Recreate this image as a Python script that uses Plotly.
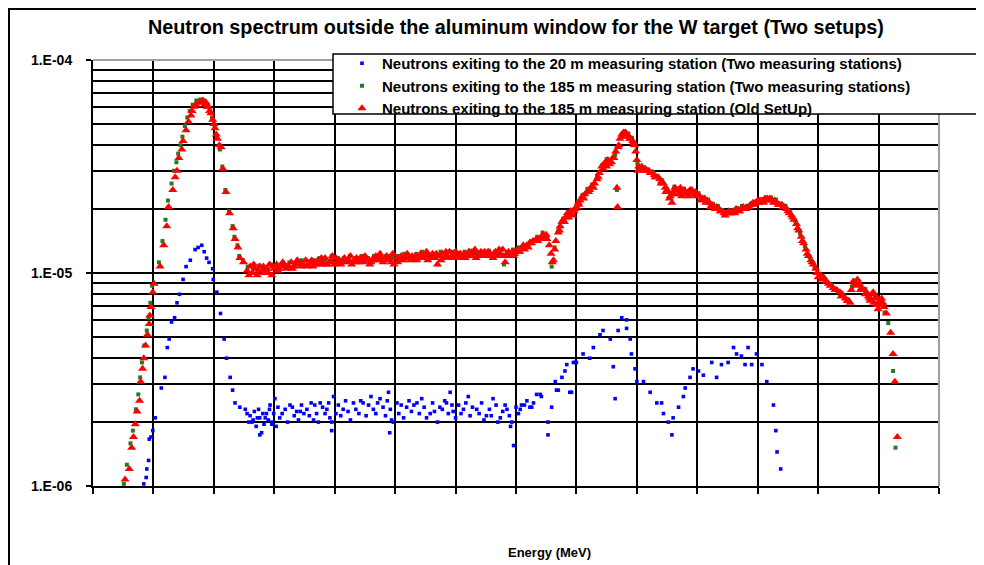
import plotly.graph_objects as go

# ---------------- data (log10 of energy in MeV, log10 of flux) ----------------
red_log_e = [
    -8.47, -8.40, -8.36, -8.33, -8.30, -8.27, -8.23, -8.21, -8.18, -8.16, -8.13, -8.10, -8.07, -8.06,
    -8.04, -8.01, -7.99, -7.89, -7.83, -7.78, -7.75, -7.68, -7.64, -7.61, -7.58, -7.53, -7.51, -7.46,
    -7.42, -7.38, -7.33, -7.26, -7.18, -7.13, -7.09, -7.05, -7.02, -6.98, -6.94, -6.88, -6.85, -6.80,
    -6.74, -6.68, -6.65, -6.60, -6.57, -6.51,
    -6.45, -6.40, -6.36, -6.32, -6.28, -6.24, -6.20, -6.16, -6.12, -6.08, -6.04, -6.00, -5.96, -5.92,
    -5.88, -5.84, -5.80, -5.76, -5.72, -5.68, -5.64, -5.60, -5.56, -5.52, -5.48, -5.44, -5.40, -5.36,
    -5.32, -5.28, -5.24, -5.20, -5.16, -5.12, -5.08, -5.04, -5.00, -4.96, -4.92, -4.88, -4.84, -4.80,
    -4.76, -4.72, -4.68, -4.64, -4.60, -4.56, -4.52, -4.48, -4.44, -4.40, -4.36, -4.32, -4.28, -4.25,
    -4.22, -4.18, -4.14, -4.10, -4.06, -4.02, -3.98, -3.94, -3.90, -3.86, -3.82, -3.78, -3.74, -3.70,
    -3.66, -3.62, -3.58, -3.54, -3.50, -3.46, -3.42, -3.38, -3.34, -3.30, -3.26, -3.22, -3.18, -3.14,
    -3.10, -3.06, -3.02, -2.98, -2.94, -2.90, -2.86, -2.82, -2.78, -2.74, -2.70, -2.66, -2.62, -2.58,
    -2.54, -2.50, -2.46, -2.42, -2.38, -2.34, -2.30, -2.26, -2.22, -2.18, -2.14, -2.10, -2.06, -2.02,
    -1.98, -1.94, -1.90, -1.86, -1.82, -1.78, -1.74, -1.70, -1.66, -1.62, -1.58, -1.55, -1.52, -1.49,
    -1.45, -1.42, -1.40, -1.38, -1.36, -1.34, -1.30, -1.27, -1.24, -1.22, -1.18, -1.15, -1.13, -1.10,
    -1.06, -1.03, -1.00, -0.97, -0.94, -0.90, -0.86, -0.82, -0.78, -0.74, -0.70, -0.66, -0.62, -0.58,
    -0.55, -0.52, -0.48, -0.45, -0.42, -0.38, -0.35, -0.33, -0.32, -0.31, -0.28, -0.25, -0.22, -0.19,
    -0.16, -0.13, -0.10, -0.07, -0.04, -0.02, 0.00, 0.02, 0.05, 0.08, 0.11, 0.14, 0.17, 0.20,
    0.23, 0.26, 0.29, 0.32, 0.35, 0.38, 0.41, 0.44, 0.47, 0.50, 0.52, 0.55, 0.58, 0.60,
    0.63, 0.66, 0.69, 0.72, 0.75, 0.78, 0.82, 0.85, 0.88, 0.91, 0.94, 0.97, 1.00, 1.04,
    1.08, 1.12, 1.16, 1.20, 1.24, 1.28, 1.32, 1.36, 1.40, 1.44, 1.48, 1.52, 1.56, 1.60,
    1.64, 1.68, 1.72, 1.76, 1.80, 1.84, 1.88, 1.92, 1.96, 2.00, 2.04, 2.08, 2.12, 2.16,
    2.20, 2.24, 2.28, 2.32, 2.36, 2.40, 2.44, 2.48, 2.52, 2.56, 2.60, 2.64, 2.68, 2.72,
    2.76, 2.80, 2.84, 2.88, 2.92, 2.96, 3.00, 3.04, 3.09, 3.14, 3.20, 3.25, 3.31, 3.36,
    3.40, 3.45, 3.50, 3.53, 3.55, 3.60, 3.65, 3.68, 3.72, 3.76, 3.80, 3.83, 3.86, 3.89,
    3.91, 3.94, 3.97, 3.99, 4.02, 4.05, 4.09, 4.13, 4.20, 4.24, 4.27, 4.31,
    # denser scatter in the band
    -7.36, -7.30, -7.22, -7.15, -7.11, -7.07, -7.00, -6.96, -6.91,
    -6.42, -6.34, -6.26, -6.18, -6.10, -6.02, -5.94, -5.86, -5.78, -5.70, -5.62, -5.54, -5.46, -5.38,
    -5.30, -5.22, -5.14, -5.06, -4.98, -4.90, -4.82, -4.74, -4.66, -4.58, -4.50, -4.42, -4.34, -4.26,
    -4.20, -4.12, -4.04, -3.96, -3.88, -3.80, -3.72, -3.64, -3.56, -3.48, -3.40, -3.32, -3.24, -3.16,
    -3.08, -3.00, -2.92, -2.84, -2.76, -2.68, -2.60, -2.52, -2.44, -2.36, -2.28, -2.20, -2.12, -2.04,
    -1.96, -1.88, -1.80, -1.72, -1.64, -1.56, -1.50,
    -1.28, -1.20, -1.12, -1.04, -0.96, -0.88, -0.80, -0.72, -0.64, -0.56, -0.50, -0.40, -0.30, -0.24,
    -0.18, -0.12, -0.06, 0.03, 0.12, 0.22, 0.30, 0.40, 0.48, 0.54, 0.62, 0.68, 0.74, 0.80,
    0.86, 0.92, 0.98, 1.06, 1.14, 1.22, 1.30, 1.38, 1.46, 1.54, 1.62, 1.70, 1.78, 1.86,
    1.94, 2.02, 2.10, 2.18, 2.26, 2.34, 2.42, 2.50, 2.58, 2.66, 2.74, 2.82, 2.90, 2.98,
    3.06, 3.17, 3.28, 3.38, 3.48, 3.58, 3.63, 3.70, 3.78, 3.85, 3.92, 3.96, 4.00, 4.07,
]
red_log_flux = [
    -5.97, -5.92, -5.82, -5.77, -5.71, -5.65, -5.60, -5.51, -5.45, -5.40, -5.34, -5.29, -5.24, -5.20,
    -5.16, -5.09, -5.05, -4.97, -4.87, -4.78, -4.69, -4.61, -4.55, -4.52, -4.46, -4.42, -4.38, -4.33,
    -4.29, -4.26, -4.22, -4.20, -4.19, -4.20, -4.22, -4.25, -4.28, -4.32, -4.37, -4.41, -4.51, -4.62,
    -4.72, -4.79, -4.84, -4.88, -4.93, -4.95,
    -4.99, -4.97, -5.00, -4.98, -5.01, -4.97, -4.99, -5.00, -4.98, -4.96, -5.01, -4.98, -4.96, -4.98,
    -4.97, -4.96, -4.98, -4.97, -4.95, -4.97, -4.96, -4.95, -4.97, -4.96, -4.94, -4.96, -4.95, -4.97,
    -4.95, -4.94, -4.96, -4.95, -4.93, -4.96, -4.95, -4.92, -4.96, -4.95, -4.94, -4.95, -4.93, -4.95,
    -4.94, -4.96, -4.94, -4.93, -4.95, -4.94, -4.95, -4.93, -4.94, -4.95, -4.93, -4.92, -4.94, -4.91,
    -4.93, -4.94, -4.92, -4.93, -4.95, -4.96, -4.93, -4.94, -4.92, -4.94, -4.93, -4.92, -4.94, -4.93,
    -4.92, -4.93, -4.91, -4.93, -4.92, -4.94, -4.92, -4.91, -4.93, -4.96, -4.92, -4.91, -4.93, -4.92,
    -4.90, -4.92, -4.93, -4.91, -4.92, -4.93, -4.91, -4.92, -4.90, -4.92, -4.91, -4.93, -4.92, -4.90,
    -4.91, -4.92, -4.90, -4.91, -4.93, -4.90, -4.92, -4.91, -4.89, -4.95, -4.91, -4.92, -4.90, -4.91,
    -4.89, -4.90, -4.88, -4.89, -4.87, -4.86, -4.86, -4.85, -4.84, -4.84, -4.83, -4.82, -4.83, -4.84,
    -4.87, -4.91, -4.95, -4.94, -4.89, -4.85, -4.81, -4.78, -4.76, -4.75, -4.74, -4.72, -4.74, -4.71,
    -4.73, -4.70, -4.69, -4.67, -4.66, -4.64, -4.63, -4.62, -4.61, -4.59, -4.58, -4.56, -4.53, -4.50,
    -4.49, -4.48, -4.47, -4.49, -4.48, -4.46, -4.43, -4.60, -4.69, -4.41, -4.37, -4.35, -4.34, -4.34,
    -4.35, -4.36, -4.37, -4.38, -4.40, -4.43, -4.47, -4.52, -4.51, -4.50, -4.51, -4.51, -4.52, -4.52,
    -4.53, -4.53, -4.54, -4.55, -4.55, -4.56, -4.57, -4.58, -4.60, -4.61, -4.62, -4.64, -4.67, -4.62,
    -4.60, -4.61, -4.63, -4.60, -4.62, -4.61, -4.63, -4.62, -4.61, -4.61, -4.63, -4.62, -4.63, -4.64,
    -4.65, -4.65, -4.66, -4.67, -4.68, -4.69, -4.69, -4.70, -4.71, -4.72, -4.72, -4.71, -4.72, -4.71,
    -4.70, -4.71, -4.70, -4.69, -4.70, -4.69, -4.68, -4.67, -4.67, -4.66, -4.66, -4.66, -4.65, -4.65,
    -4.65, -4.66, -4.66, -4.67, -4.68, -4.68, -4.69, -4.70, -4.72, -4.73, -4.75, -4.77, -4.80, -4.83,
    -4.86, -4.89, -4.92, -4.94, -4.96, -4.98, -5.02, -5.01, -5.02, -5.04, -5.06, -5.07, -5.08, -5.09,
    -5.10, -5.12, -5.13, -5.14, -5.08, -5.05, -5.03, -5.05, -5.07, -5.08, -5.09, -5.11, -5.13, -5.10,
    -5.09, -5.12, -5.15, -5.17, -5.13, -5.12, -5.16, -5.19, -5.28, -5.38, -5.51, -5.77,
    # denser scatter in the band
    -4.24, -4.21, -4.20, -4.21, -4.22, -4.24, -4.30, -4.35, -4.40,
    -5.01, -4.96, -4.99, -4.97, -5.00, -4.97, -4.99, -4.95, -4.97, -4.98, -4.94, -4.96, -4.97, -4.94,
    -4.96, -4.93, -4.96, -4.94, -4.93, -4.96, -4.94, -4.92, -4.95, -4.93, -4.92, -4.96, -4.94, -4.93,
    -4.95, -4.94, -4.91, -4.95, -4.93, -4.91, -4.92, -4.94, -4.92, -4.90, -4.93, -4.91, -4.94, -4.90,
    -4.93, -4.90, -4.91, -4.93, -4.91, -4.89, -4.92, -4.90, -4.92, -4.91, -4.89, -4.92, -4.90, -4.92,
    -4.90, -4.87, -4.88, -4.85, -4.85, -4.84, -4.82,
    -4.80, -4.76, -4.72, -4.71, -4.68, -4.65, -4.62, -4.60, -4.55, -4.51, -4.50, -4.46, -4.40, -4.36,
    -4.35, -4.37, -4.39, -4.50, -4.52, -4.53, -4.55, -4.58, -4.62, -4.65, -4.63, -4.61, -4.64, -4.62,
    -4.64, -4.62, -4.64, -4.66, -4.67, -4.69, -4.70, -4.71, -4.73, -4.72, -4.72, -4.71, -4.70, -4.69,
    -4.68, -4.67, -4.67, -4.66, -4.67, -4.68, -4.69, -4.71, -4.74, -4.79, -4.85, -4.91, -4.95, -5.00,
    -5.03, -5.05, -5.08, -5.11, -5.13, -5.04, -5.06, -5.08, -5.10, -5.12, -5.14, -5.11, -5.15, -5.14,
]

green_log_e = [
    -8.49, -8.44, -8.38, -8.34, -8.29, -8.25, -8.22, -8.19, -8.15, -8.11, -8.08, -8.05, -8.02, -7.91,
    -7.85, -7.80, -7.76, -7.70, -7.66, -7.62, -7.59, -7.55, -7.52, -7.48, -7.44, -7.40, -7.35, -7.29,
    -7.22, -7.16, -7.11, -7.07, -7.03, -6.99, -6.95, -6.90, -6.86, -6.81, -6.75, -6.69, -6.66, -6.61,
    -6.58, -6.52, -6.44,
    -6.35, -6.25, -6.15, -6.05, -5.95, -5.85, -5.75, -5.65, -5.55, -5.45, -5.35, -5.25, -5.15, -5.05,
    -4.95, -4.85, -4.75, -4.65, -4.55, -4.45, -4.35, -4.25, -4.15, -4.05, -3.95, -3.85, -3.75, -3.65,
    -3.55, -3.45, -3.35, -3.25, -3.15, -3.05, -2.95, -2.85, -2.75, -2.65, -2.55, -2.45, -2.35, -2.25,
    -2.20, -2.15, -2.05, -1.95, -1.85, -1.75, -1.65, -1.56, -1.48, -1.41,
    -1.36, -1.30, -1.22, -1.14, -1.06, -0.98, -0.90, -0.82, -0.74, -0.66, -0.58, -0.50, -0.44, -0.36,
    -0.33, -0.31, -0.26, -0.20, -0.14, -0.08, -0.03, 0.01, 0.04, 0.10, 0.18, 0.26, 0.34, 0.42,
    0.50, 0.56, 0.62, 0.70, 0.78, 0.86, 0.94, 1.02, 1.10, 1.18, 1.26, 1.34, 1.42, 1.50,
    1.58, 1.66, 1.74, 1.82, 1.90, 1.98, 2.06, 2.14, 2.22, 2.30, 2.38, 2.46, 2.54, 2.62,
    2.70, 2.78, 2.86, 2.94, 3.02, 3.12, 3.22, 3.32, 3.42, 3.50, 3.56, 3.62, 3.70, 3.78,
    3.86, 3.94, 4.02, 4.10, 4.16, 4.24, 4.28,
]
green_log_flux = [
    -5.99, -5.90, -5.80, -5.74, -5.64, -5.57, -5.49, -5.42, -5.34, -5.27, -5.21, -5.14, -5.06, -4.95,
    -4.85, -4.75, -4.66, -4.58, -4.52, -4.48, -4.44, -4.40, -4.36, -4.31, -4.27, -4.24, -4.21, -4.19,
    -4.185, -4.19, -4.21, -4.24, -4.27, -4.31, -4.36, -4.42, -4.50, -4.61, -4.71, -4.78, -4.83, -4.87,
    -4.92, -4.94, -4.97,
    -4.975, -4.965, -4.985, -4.96, -4.965, -4.96, -4.95, -4.955, -4.94, -4.945, -4.94, -4.93, -4.935, -4.92,
    -4.93, -4.93, -4.92, -4.93, -4.92, -4.93, -4.92, -4.91, -4.92, -4.925, -4.92, -4.91, -4.92, -4.91,
    -4.90, -4.915, -4.91, -4.90, -4.91, -4.90, -4.905, -4.90, -4.895, -4.905, -4.90, -4.895, -4.90, -4.89,
    -4.96, -4.90, -4.89, -4.88, -4.87, -4.85, -4.83, -4.81, -4.835, -4.97,
    -4.88, -4.80, -4.745, -4.715, -4.705, -4.665, -4.635, -4.605, -4.585, -4.545, -4.495, -4.465, -4.475, -4.445,
    -4.61, -4.405, -4.355, -4.335, -4.345, -4.365, -4.395, -4.485, -4.515, -4.505, -4.515, -4.525, -4.545, -4.565,
    -4.605, -4.635, -4.595, -4.605, -4.605, -4.615, -4.615, -4.625, -4.645, -4.655, -4.675, -4.685, -4.705, -4.715,
    -4.705, -4.695, -4.685, -4.685, -4.675, -4.665, -4.655, -4.645, -4.645, -4.655, -4.675, -4.685, -4.715, -4.755,
    -4.815, -4.875, -4.925, -4.975, -5.005, -5.035, -5.055, -5.085, -5.105, -5.125, -5.065, -5.035, -5.055, -5.075,
    -5.105, -5.115, -5.145, -5.185, -5.235, -5.46, -5.82,
]

blue_log_e = [
    -8.16, -8.12, -8.11, -8.08, -8.07, -8.04, -8.01, -7.97, -7.87, -7.81, -7.77, -7.74, -7.70, -7.65,
    -7.61, -7.57, -7.51, -7.46, -7.39, -7.31, -7.26, -7.20, -7.16, -7.12, -7.08, -7.02, -7.01, -6.95,
    -6.89, -6.83, -6.79, -6.73, -6.69, -6.65, -6.57, -6.48, -6.45, -6.42, -6.40, -6.37, -6.35, -6.33,
    -6.30, -6.28, -6.26, -6.24, -6.24, -6.21, -6.19, -6.17, -6.15, -6.13, -6.10, -6.08, -6.07, -6.04,
    -6.04, -6.01, -5.99, -5.97, -5.94, -5.91, -5.87, -5.82, -5.78, -5.74, -5.70, -5.67, -5.63, -5.60,
    -5.57, -5.55, -5.51, -5.46, -5.42, -5.39, -5.35, -5.33, -5.30, -5.27, -5.24, -5.20, -5.16, -5.13,
    -5.10, -5.08, -5.05, -5.05, -5.02, -4.98, -4.94, -4.90, -4.86, -4.82, -4.78, -4.74, -4.69, -4.65,
    -4.60, -4.57, -4.53, -4.48, -4.44, -4.40, -4.36, -4.32, -4.29, -4.25, -4.20, -4.16, -4.13, -4.11,
    -4.09, -4.08, -4.06, -4.03, -3.97, -3.94, -3.90, -3.86, -3.81, -3.77, -3.73, -3.69, -3.64, -3.60,
    -3.56, -3.52, -3.48, -3.42, -3.38, -3.35, -3.30, -3.26, -3.22, -3.18, -3.15, -3.12, -3.09, -3.06,
    -3.04, -3.00, -2.95, -2.91, -2.87, -2.83, -2.79, -2.76, -2.72, -2.65, -2.61, -2.57, -2.53, -2.49,
    -2.44, -2.41, -2.38, -2.33, -2.30, -2.26, -2.22, -2.18, -2.15, -2.11, -2.09, -2.07, -2.04, -2.00,
    -1.96, -1.93, -1.91, -1.86, -1.82, -1.77, -1.74, -1.71, -1.66, -1.60, -1.58, -1.47, -1.47, -1.41,
    -1.35, -1.33, -1.30, -1.24, -1.19, -1.16, -1.11, -1.08, -1.05, -1.02, -1.00, -0.89, -0.78, -0.72,
    -0.61, -0.56, -0.44, -0.39, -0.36, -0.31, -0.25, -0.17, -0.17, -0.11, -0.09, -0.03, 0.00, 0.11,
    0.22, 0.33, 0.41, 0.44, 0.52, 0.58, 0.60, 0.69, 0.77, 0.80, 0.88, 0.93, 1.02, 1.10,
    1.24, 1.32, 1.40, 1.51, 1.60, 1.65, 1.73, 1.79, 1.84, 1.90, 1.98, 2.07, 2.15, 2.26,
    2.30, 2.32, 2.38,
]
blue_log_flux = [
    -5.99, -5.96, -5.92, -5.88, -5.78, -5.77, -5.74, -5.68, -5.54, -5.49, -5.35, -5.31, -5.23, -5.21,
    -5.14, -5.10, -5.03, -4.97, -4.94, -4.89, -4.88, -4.87, -4.90, -4.93, -4.95, -4.98, -5.03, -5.09,
    -5.19, -5.31, -5.40, -5.49, -5.55, -5.61, -5.63, -5.64, -5.66, -5.70, -5.67, -5.70, -5.69, -5.65,
    -5.72, -5.68, -5.64, -5.68, -5.76, -5.75, -5.66, -5.71, -5.68, -5.66, -5.69, -5.64, -5.62, -5.70,
    -5.71, -5.66, -5.59, -5.72, -5.63, -5.68, -5.66, -5.64, -5.70, -5.62, -5.63, -5.67, -5.65, -5.69,
    -5.65, -5.62, -5.66, -5.64, -5.67, -5.61, -5.69, -5.62, -5.66, -5.70, -5.61, -5.63, -5.66, -5.64,
    -5.61, -5.68, -5.70, -5.74, -5.58, -5.66, -5.62, -5.67, -5.64, -5.60, -5.65, -5.69, -5.61, -5.64,
    -5.66, -5.60, -5.61, -5.67, -5.62, -5.58, -5.64, -5.66, -5.61, -5.59, -5.63, -5.67, -5.60, -5.56,
    -5.75, -5.64, -5.69, -5.70, -5.61, -5.66, -5.62, -5.68, -5.63, -5.60, -5.65, -5.62, -5.61, -5.66,
    -5.59, -5.63, -5.68, -5.66, -5.61, -5.65, -5.70, -5.63, -5.64, -5.60, -5.61, -5.66, -5.56, -5.62,
    -5.65, -5.68, -5.62, -5.66, -5.64, -5.61, -5.58, -5.67, -5.63, -5.64, -5.66, -5.61, -5.69, -5.67,
    -5.64, -5.67, -5.59, -5.62, -5.70, -5.68, -5.65, -5.62, -5.64, -5.67, -5.72, -5.70, -5.81, -5.63,
    -5.66, -5.64, -5.62, -5.62, -5.60, -5.63, -5.63, -5.61, -5.57, -5.57, -5.58, -5.76, -5.70, -5.63,
    -5.51, -5.55, -5.55, -5.49, -5.46, -5.43, -5.56, -5.56, -5.42, -5.42, -5.42, -5.38, -5.40, -5.35,
    -5.29, -5.27, -5.31, -5.44, -5.59, -5.27, -5.21, -5.22, -5.26, -5.31, -5.38, -5.45, -5.51, -5.51,
    -5.56, -5.61, -5.61, -5.66, -5.70, -5.76, -5.68, -5.63, -5.58, -5.54, -5.49, -5.45, -5.46, -5.48,
    -5.42, -5.49, -5.43, -5.42, -5.35, -5.38, -5.39, -5.43, -5.35, -5.43, -5.38, -5.43, -5.51, -5.62,
    -5.74, -5.84, -5.92,
]

series_names = [
    "Neutrons exiting to the 20 m measuring station (Two measuring stations)",
    "Neutrons exiting to the 185 m measuring station (Two measuring stations)",
    "Neutrons exiting to the 185 m measuring station (Old SetUp)",
]
y_tick_values = [1e-6, 1e-5, 1e-4]
y_tick_labels = ["1.E-06", "1.E-05", "1.E-04"]
y_minor_values = [2e-6, 3e-6, 4e-6, 5e-6, 6e-6, 7e-6, 8e-6, 9e-6,
                  2e-5, 3e-5, 4e-5, 5e-5, 6e-5, 7e-5, 8e-5, 9e-5]
title_text = "Neutron spectrum outside the aluminum window for the W target (Two setups)"
x_title_text = "Energy (MeV)"


def pw(vals):
    return [10 ** v for v in vals]


FONT = "Arial, 'Liberation Sans', sans-serif"

fig = go.Figure()
fig.add_trace(go.Scatter(
    x=pw(blue_log_e), y=pw(blue_log_flux), mode="markers", name=series_names[0],
    marker=dict(symbol="square", size=3.6, color="#0000ff", line=dict(width=0)),
))
fig.add_trace(go.Scatter(
    x=pw(green_log_e), y=pw(green_log_flux), mode="markers", name=series_names[1],
    marker=dict(symbol="square", size=4, color="#1e7d1e", line=dict(width=0)),
))
fig.add_trace(go.Scatter(
    x=pw(red_log_e), y=pw(red_log_flux), mode="markers", name=series_names[2],
    marker=dict(symbol="triangle-up", size=8, color="#ff0000", line=dict(width=0)),
))

# The page shows the figure 8 px in from the window's corner; layout positions
# below are given as window pixels and converted.
OFF = 8
L, R, T, B = 93 - OFF, 939 - OFF, 60 - OFF, 486 - OFF
W, H = R - L, B - T


def px(x):
    return (x - OFF - L) / W


def py(y):
    return (B - (y - OFF)) / H


fig.update_layout(
    width=984, height=565,
    margin=dict(l=L, r=984 - R, t=T, b=565 - B, pad=0),
    paper_bgcolor="white", plot_bgcolor="white",
    font=dict(family=FONT, color="black"),
    showlegend=True,
    legend=dict(
        x=px(342), y=py(47), xanchor="left", yanchor="top",
        bgcolor="rgba(255,255,255,0)", borderwidth=0,
        font=dict(family=FONT, size=15, color="black", weight="bold"),
        itemsizing="trace", tracegroupgap=0, traceorder="normal",
    ),
    xaxis=dict(
        type="log", range=[-9, 5], dtick=1, showticklabels=False,
        ticks="outside", ticklen=6, tickwidth=1.5, tickcolor="black",
        showgrid=True, gridcolor="black", gridwidth=2,
        showline=True, linecolor="black", linewidth=2, zeroline=False,
    ),
    yaxis=dict(
        type="log", range=[-6, -4], tickmode="array",
        tickvals=y_tick_values, ticktext=y_tick_labels,
        ticks="outside", ticklen=5, tickwidth=1.5, tickcolor="black",
        ticklabelstandoff=11,
        tickfont=dict(family=FONT, size=14, color="black", weight="bold"),
        showgrid=True, gridcolor="black", gridwidth=2,
        minor=dict(tickmode="array", tickvals=y_minor_values, showgrid=True,
                   gridcolor="black", gridwidth=2, ticks=""),
        showline=True, linecolor="black", linewidth=2, zeroline=False,
    ),
    shapes=[
        # outer chart border
        dict(type="rect", xref="paper", yref="paper", x0=px(9), x1=px(1010),
             y0=py(9), y1=py(600), line=dict(color="black", width=2), layer="above"),
        # grey top and right plot frame
        dict(type="line", xref="paper", yref="paper", x0=0, x1=1, y0=1, y1=1,
             line=dict(color="#a0a0a0", width=2), layer="above"),
        dict(type="line", xref="paper", yref="paper", x0=1, x1=1, y0=0, y1=1,
             line=dict(color="#a0a0a0", width=2), layer="above"),
        # legend box
        dict(type="rect", xref="paper", yref="paper", x0=px(333), x1=px(1010),
             y0=py(114), y1=py(54), fillcolor="white",
             line=dict(color="black", width=1.5), layer="above"),
    ],
    annotations=[
        dict(text=title_text, xref="paper", yref="paper", x=px(516), y=py(27),
             xanchor="center", yanchor="middle", showarrow=False,
             font=dict(family=FONT, size=19.8, color="black", weight="bold")),
        dict(text=x_title_text, xref="paper", yref="paper", x=px(549), y=py(552),
             xanchor="center", yanchor="middle", showarrow=False,
             font=dict(family=FONT, size=13, color="black", weight="bold")),
    ],
)

fig.write_html("out.html")
